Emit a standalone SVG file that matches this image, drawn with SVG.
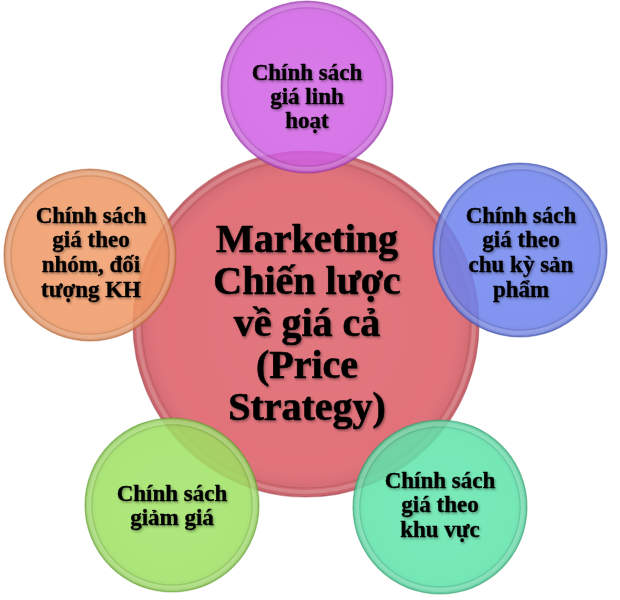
<svg xmlns="http://www.w3.org/2000/svg" width="620" height="600" viewBox="0 0 620 600">
<defs>
<radialGradient id="gloss" cx="50%" cy="50%" r="50%">
<stop offset="0%" stop-color="#ffffff" stop-opacity="0.04"/>
<stop offset="82%" stop-color="#ffffff" stop-opacity="0"/>
<stop offset="94%" stop-color="#000000" stop-opacity="0.05"/>
<stop offset="100%" stop-color="#000000" stop-opacity="0.12"/>
</radialGradient>
<filter id="ts" x="-10%" y="-20%" width="130%" height="150%">
<feDropShadow dx="1.2" dy="1.6" stdDeviation="1" flood-color="#000" flood-opacity="0.35"/>
</filter>
</defs>
<style>
.base{stroke-width:1.2;stroke-opacity:0.5}
.sat{fill-opacity:0.86}
.gl{fill:url(#gloss)}
.bev{fill:none;stroke:#ffffff;stroke-opacity:0.18;stroke-width:4}
.bev2{fill:none;stroke:#000000;stroke-opacity:0.10;stroke-width:1.2}
text{font-family:"Liberation Serif","Times New Roman",serif;font-weight:bold;fill:#000;text-anchor:middle;stroke:#000;stroke-width:0.35}
.t{font-size:23px;filter:url(#ts)}
.tc{font-size:40px;filter:url(#ts);stroke-width:0.6}
</style>
<g id="connectors"></g>
<g id="center">
<circle class="base" cx="306" cy="324" r="173" fill="#e06c75" fill-opacity="0.96" stroke="#a8404a"/>
<circle class="gl" cx="306" cy="324" r="173"/>
<circle class="bev" cx="306" cy="324" r="168"/>
<circle class="bev2" cx="306" cy="324" r="164"/>
<text class="tc" x="307" y="252">Marketing</text>
<text class="tc" x="307" y="294">Chiến lược</text>
<text class="tc" x="307" y="336">về giá cả</text>
<text class="tc" x="307" y="378">(Price</text>
<text class="tc" x="307" y="420">Strategy)</text>
</g>
<g id="top">
<circle class="base sat" cx="307" cy="87" r="86" fill="#d060e4" stroke="#8a2a9a"/>
<circle class="gl" cx="307" cy="87" r="86"/>
<circle class="bev" cx="307" cy="87" r="82"/>
<circle class="bev2" cx="307" cy="87" r="79"/>
<text class="t" x="307" y="80">Chính sách</text>
<text class="t" x="307" y="104">giá linh</text>
<text class="t" x="307" y="128">hoạt</text>
</g>
<g id="right">
<circle class="base sat" cx="520" cy="250" r="87" fill="#6c82ee" stroke="#3a4aa8"/>
<circle class="gl" cx="520" cy="250" r="87"/>
<circle class="bev" cx="520" cy="250" r="83"/>
<circle class="bev2" cx="520" cy="250" r="80"/>
<text class="t" x="521" y="223">Chính sách</text>
<text class="t" x="521" y="247">giá theo</text>
<text class="t" x="521" y="272">chu kỳ sản</text>
<text class="t" x="521" y="297">phẩm</text>
</g>
<g id="bottom-right">
<circle class="base sat" cx="440" cy="507" r="87" fill="#5ee4aa" stroke="#2a9a6a"/>
<circle class="gl" cx="440" cy="507" r="87"/>
<circle class="bev" cx="440" cy="507" r="83"/>
<circle class="bev2" cx="440" cy="507" r="80"/>
<text class="t" x="440" y="488">Chính sách</text>
<text class="t" x="440" y="512">giá theo</text>
<text class="t" x="440" y="537">khu vực</text>
</g>
<g id="bottom-left">
<circle class="base sat" cx="172" cy="505" r="87" fill="#9ee262" stroke="#5a9a2a"/>
<circle class="gl" cx="172" cy="505" r="87"/>
<circle class="bev" cx="172" cy="505" r="83"/>
<circle class="bev2" cx="172" cy="505" r="80"/>
<text class="t" x="172" y="501">Chính sách</text>
<text class="t" x="172" y="525">giảm giá</text>
</g>
<g id="left">
<circle class="base sat" cx="90" cy="255" r="86" fill="#f09864" stroke="#b05a2a"/>
<circle class="gl" cx="90" cy="255" r="86"/>
<circle class="bev" cx="90" cy="255" r="82"/>
<circle class="bev2" cx="90" cy="255" r="79"/>
<text class="t" x="91" y="223">Chính sách</text>
<text class="t" x="91" y="247">giá theo</text>
<text class="t" x="91" y="272">nhóm, đối</text>
<text class="t" x="91" y="297">tượng KH</text>
</g>
</svg>
